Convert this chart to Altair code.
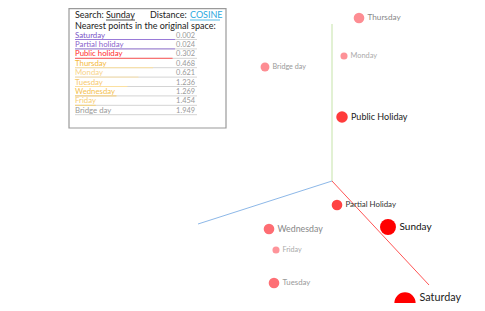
import altair as alt
import pandas as pd

FONT = "Lato"

# --- projected points (projection-space coordinates) ---
names = ["Thursday", "Monday", "Bridge day", "Public Holiday", "Partial Holiday",
         "Sunday", "Wednesday", "Friday", "Tuesday", "Saturday"]
px = [359, 344, 265, 342, 337, 388, 269, 276, 274, 405]
py = [18, 56, 67, 117, 205, 227, 229, 250, 283, 303]
radius = [6, 4, 5, 6.5, 6, 9, 6, 4, 6, 12]
point_color = ["#fd8d93", "#fd9298", "#fd8d93", "#ff3b3b", "#ff4242",
               "#ff0000", "#fe6d73", "#fe949a", "#fe6f75", "#ff0000"]
label_size = [8.2, 7.4, 7.2, 9, 7.9, 10, 8.8, 7.2, 7.8, 10.8]
label_color = ["#888888", "#aaaaaa", "#999999", "#222222", "#333333",
               "#111111", "#888888", "#aaaaaa", "#999999", "#222222"]
label_dy = [0, 0, 0, 0, 0, 0, 0, 0, 0, -5]

# --- 3D axes projected ---
axis_x1 = [332, 332, 332]
axis_y1 = [181, 181, 181]
axis_x2 = [332, 198, 429]
axis_y2 = [24, 224, 285]
axis_color = ["#c5e3a8", "#8db8e8", "#ff5555"]

# --- nearest-neighbour list ---
nn_names = ["Saturday", "Partial holiday", "Public holiday", "Thursday", "Monday",
            "Tuesday", "Wednesday", "Friday", "Bridge day"]
nn_dist = ["0.002", "0.024", "0.302", "0.468", "0.621", "1.236", "1.269", "1.454", "1.949"]
nn_bar = [0.82, 0.82, 0.80, 0.64, 0.52, 0.43, 0.34, 0.17, 0.0]
nn_text_color = ["#7b55c8", "#8a5fcc", "#ff2a2a", "#f5b93a", "#f8d488",
                 "#f7c96a", "#f5c14e", "#f7cd70", "#999999"]
nn_bar_color = ["#9a7ad8", "#9a7ad8", "#ff5a5a", "#fbe0a0", "#fbe3ad",
                "#fbe0a0", "#f7cd70", "#f7d27a", "#cccccc"]

panel_left, panel_right = 75, 197
row_y0, row_step = 39.5, 9.4

pts = pd.DataFrame(dict(name=names, x=px, y=py, r=radius, c=point_color,
                        fs=label_size, lc=label_color, dy=label_dy))
pts["size"] = 3.14159 * pts["r"] ** 2
pts["lx"] = pts["x"] + pts["r"] + 2.5
pts["ly"] = pts["y"] + pts["dy"]

axes = pd.DataFrame(dict(x=axis_x1, y=axis_y1, x2=axis_x2, y2=axis_y2, c=axis_color))

rows = pd.DataFrame(dict(name=nn_names, dist=nn_dist, bar=nn_bar,
                         tc=nn_text_color, bc=nn_bar_color))
rows["uy"] = [row_y0 + row_step * i for i in range(len(rows))]
rows["ty"] = rows["uy"] - 2
rows["x0"] = panel_left
rows["x1"] = panel_right
rows["xv"] = panel_right - 2
rows["xb"] = panel_left + rows["bar"] * (panel_right - panel_left)

xs = alt.Scale(domain=[8, 477], nice=False, zero=False)
ys = alt.Scale(domain=[8, 303], nice=False, zero=False, reverse=True)
X = lambda f: alt.X(f, type="quantitative", scale=xs, axis=None)
Y = lambda f: alt.Y(f, type="quantitative", scale=ys, axis=None)

axis_layer = alt.Chart(axes).mark_rule(strokeWidth=1).encode(
    x=X("x"), y=Y("y"), x2="x2", y2="y2",
    color=alt.Color("c:N", scale=None))

circles = alt.Chart(pts).mark_circle(opacity=1).encode(
    x=X("x"), y=Y("y"),
    size=alt.Size("size:Q", scale=None),
    color=alt.Color("c:N", scale=None))

labels = []
for _, r in pts.iterrows():
    labels.append(alt.Chart(pd.DataFrame([r])).mark_text(
        align="left", baseline="middle", font=FONT, fontSize=float(r["fs"]),
        color=r["lc"]).encode(x=X("lx"), y=Y("ly"), text="name:N"))

# box
box = pd.DataFrame(dict(x=[69], x2=[226], y=[8.6], y2=[128]))
box_layer = alt.Chart(box).mark_rect(fill="white", stroke="#9a9a9a", strokeWidth=1.2).encode(
    x=X("x"), x2="x2", y=Y("y"), y2="y2")

hdr = pd.DataFrame(dict(
    t=["Search:", "Sunday", "Distance:", "COSINE", "Nearest points in the original space:"],
    x=[75, 106, 150, 190, 75], y=[18, 18, 18, 18, 28.5],
    c=["#222222", "#222222", "#222222", "#29a8e0", "#222222"]))
hdr_layer = alt.Chart(hdr).mark_text(align="left", baseline="alphabetic", font=FONT,
                                     fontSize=9).encode(
    x=X("x"), y=Y("y"), text="t:N", color=alt.Color("c:N", scale=None))
hdr_ul = pd.DataFrame(dict(x=[106, 190], x2=[135, 220], y=[20, 20], c=["#222222", "#29a8e0"]))
hdr_ul_layer = alt.Chart(hdr_ul).mark_rule(strokeWidth=0.8).encode(
    x=X("x"), x2="x2", y=Y("y"), color=alt.Color("c:N", scale=None))

track = alt.Chart(rows).mark_rule(strokeWidth=1, color="#d4d4d4").encode(
    x=X("x0"), x2="x1", y=Y("uy"))
bars = alt.Chart(rows[rows["bar"] > 0]).mark_rule(strokeWidth=1).encode(
    x=X("x0"), x2="xb", y=Y("uy"), color=alt.Color("bc:N", scale=None))
row_text = alt.Chart(rows).mark_text(align="left", baseline="alphabetic", font=FONT,
                                     fontSize=7.8).encode(
    x=X("x0"), y=Y("ty"), text="name:N", color=alt.Color("tc:N", scale=None))
row_val = alt.Chart(rows).mark_text(align="right", baseline="alphabetic", font=FONT,
                                    fontSize=7.4, color="#9a9a9a").encode(
    x=X("xv"), y=Y("ty"), text="dist:N")

chart = alt.layer(
    axis_layer, circles, *labels, box_layer, hdr_layer, hdr_ul_layer,
    track, bars, row_text, row_val
).properties(
    width=469, height=295, padding=0, autosize=alt.AutoSizeParams(type="none")
).configure_view(stroke=None)

chart.save("out.html", embed_options={"renderer": "svg", "actions": False})
